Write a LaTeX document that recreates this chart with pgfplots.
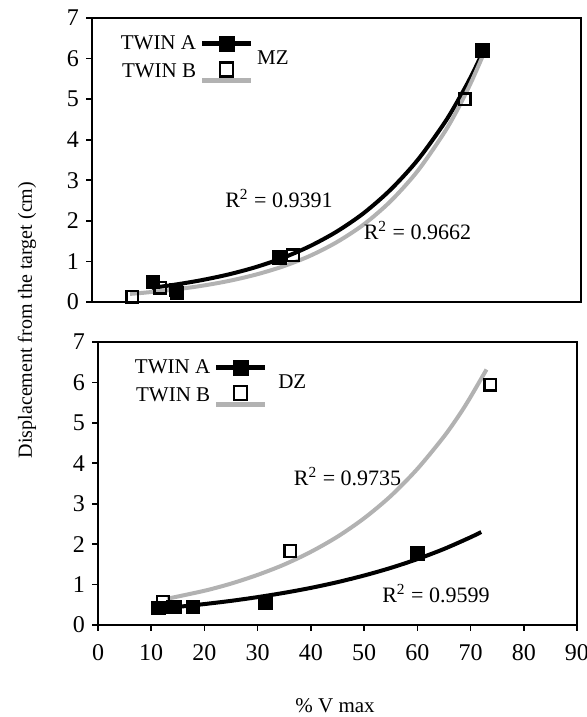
\documentclass[border=0pt]{standalone}
\usepackage{fontspec}
\setmainfont{Liberation Serif}
\usepackage{pgfplots}
\pgfplotsset{compat=1.18}
\definecolor{lgray}{RGB}{178,178,178}
\pgfplotsset{
  panel/.style={
    scale only axis, anchor=south west,
    xmin=0, xmax=90, ymin=0, ymax=7,
    ytick={0,1,...,7},
    tick align=outside, tick pos=left,
    axis line style={line width=0.9pt},
    major tick style={line width=0.8pt, black},
    major tick length=3pt,
    tick label style={font=\fontsize{12}{14}\selectfont},
    /pgf/number format/assume math mode=true,
    legend style={draw=none, fill=none, font=\fontsize{10.5}{11}\selectfont,
      legend cell align=right, cells={anchor=east}, row sep=2pt,
      inner sep=0pt},
    legend plot pos=right,
    every axis legend/.append style={anchor=north west},
  },
  ptA/.style={only marks, mark=square*, mark size=3.4pt, mark options={fill=black, draw=black}},
  ptB/.style={only marks, mark=square, mark size=2.9pt, mark options={draw=black, line width=1.2pt, fill=white}},
  trA/.style={no marks, black, line width=2pt, smooth},
  trB/.style={no marks, lgray, line width=2pt, smooth},
}
\begin{document}
\begin{tikzpicture}
\useasboundingbox (0,0) rectangle (293pt,358.5pt);
% ---------- top panel (MZ)
\begin{axis}[panel, at={(46pt,207.5pt)}, width=244.5pt, height=142pt,
  xtick=\empty,
  legend style={at={(rel axis cs:0.05,0.955)}}]
\addlegendimage{legend image code/.code={
  \draw[line width=2.2pt] (0pt,0pt) -- (24.5pt,0pt);
  \fill (8.5pt,-3.7pt) rectangle (16pt,3.7pt);}}
\addlegendentry{TWIN A}
\addlegendimage{legend image code/.code={
  \draw[lgray, line width=2.2pt] (0pt,-4pt) -- (24.5pt,-4pt);
  \draw[line width=1.1pt, fill=white] (9pt,-2pt) rectangle (15.5pt,5pt);}}
\addlegendentry{TWIN B}
\addplot[trA] coordinates {(11,0.349) (15,0.422) (20,0.534) (25,0.675) (30,0.854) (35,1.081) (40,1.369) (45,1.732) (50,2.19) (55,2.775) (60,3.51) (65,4.44) (68,5.12) (70,5.62) (72,6.18)};
\addplot[trB] coordinates {(7,0.199) (10,0.234) (15,0.304) (20,0.395) (25,0.514) (30,0.669) (35,0.870) (40,1.13) (45,1.471) (50,1.91) (55,2.49) (60,3.24) (65,4.21) (68,4.93) (70,5.48) (72,6.09)};
\addplot[ptB] coordinates {(7.4,0.13) (12.6,0.35) (15.5,0.3) (37,1.15) (68.6,5.0)};
\addplot[ptA] coordinates {(11.2,0.5) (15.6,0.22) (34.5,1.1) (71.9,6.2)};
\node[font=\fontsize{10.5}{12}\selectfont] at (axis cs:33.3,6.03) {MZ};
\node[font=\fontsize{11}{12}\selectfont] at (axis cs:34.4,2.54) {R\textsuperscript{2} = 0.9391};
\node[font=\fontsize{11}{12}\selectfont] at (axis cs:59.9,1.77) {R\textsuperscript{2} = 0.9662};
\end{axis}
% ---------- bottom panel (DZ)
\begin{axis}[panel, at={(49pt,46pt)}, width=239.5pt, height=141.5pt,
  xtick={0,10,...,90},
  xticklabel style={yshift=-3pt},
  legend style={at={(rel axis cs:0.068,0.955)}}]
\addlegendimage{legend image code/.code={
  \draw[line width=2.2pt] (0pt,0pt) -- (24.5pt,0pt);
  \fill (8.5pt,-3.7pt) rectangle (16pt,3.7pt);}}
\addlegendentry{TWIN A}
\addlegendimage{legend image code/.code={
  \draw[lgray, line width=2.2pt] (0pt,-4pt) -- (24.5pt,-4pt);
  \draw[line width=1.1pt, fill=white] (9pt,-2pt) rectangle (15.5pt,5pt);}}
\addlegendentry{TWIN B}
\addplot[trA] coordinates {(11,0.40) (15,0.449) (20,0.518) (25,0.597) (30,0.69) (35,0.796) (40,0.918) (45,1.06) (50,1.224) (55,1.412) (60,1.63) (65,1.88) (70,2.17) (72,2.30)};
\addplot[trB] coordinates {(13,0.65) (20,0.847) (25,1.024) (30,1.24) (35,1.496) (40,1.81) (45,2.185) (50,2.64) (55,3.19) (60,3.86) (65,4.66) (68,5.22) (70,5.64) (73,6.32)};
\addplot[ptB] coordinates {(12.2,0.58) (14.5,0.45) (36.1,1.83) (73.7,5.94)};
\addplot[ptA] coordinates {(11.4,0.42) (14.2,0.45) (17.8,0.45) (31.4,0.55) (60,1.77)};
\node[font=\fontsize{10.5}{12}\selectfont] at (axis cs:36.5,6.02) {DZ};
\node[font=\fontsize{11}{12}\selectfont] at (axis cs:46.9,3.67) {R\textsuperscript{2} = 0.9735};
\node[font=\fontsize{11}{12}\selectfont] at (axis cs:63.5,0.78) {R\textsuperscript{2} = 0.9599};
\end{axis}
\node[rotate=90, font=\fontsize{10}{12}\selectfont] at (13.5pt,198.5pt) {Displacement from the target (cm)};
\node[font=\fontsize{10.5}{12}\selectfont] at (167.5pt,5.5pt) {\% V max};
\end{tikzpicture}
\end{document}
